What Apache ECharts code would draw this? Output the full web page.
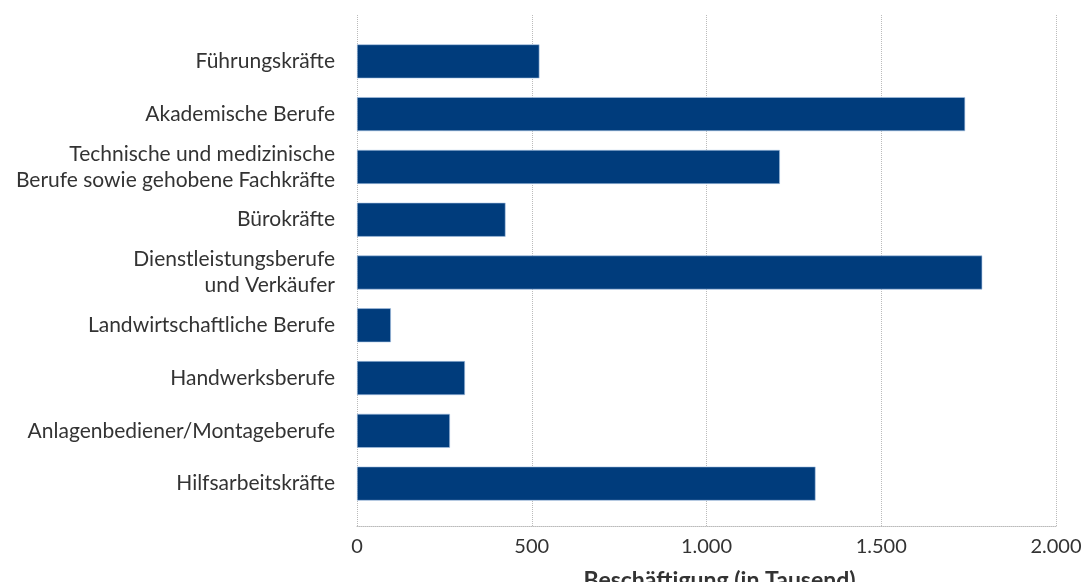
<!DOCTYPE html>
<html><head><meta charset="utf-8">
<script src="https://cdn.jsdelivr.net/npm/echarts@6/dist/echarts.min.js"></script>
<style>html,body{margin:0;padding:0;background:#fff}#c{width:1084px;height:582px}</style>
</head><body><div id="c"></div>
<script>
const categories = [
  "Führungskräfte",
  "Akademische Berufe",
  "Technische und medizinische\nBerufe sowie gehobene Fachkräfte",
  "Bürokräfte",
  "Dienstleistungsberufe\nund Verkäufer",
  "Landwirtschaftliche Berufe",
  "Handwerksberufe",
  "Anlagenbediener/Montageberufe",
  "Hilfsarbeitskräfte"
];
const values = [522, 1740, 1210, 425, 1789, 97, 309, 266, 1312];
const xTicks = [0, 500, 1000, 1500, 2000];
const axisName = "Beschäftigung (in Tausend)";

const FONT = "Lato";
const fmt = v => String(v).replace(/\B(?=(\d{3})+(?!\d))/g, ".");
const chart = echarts.init(document.getElementById('c'));
chart.setOption({
  animation: false,
  grid: [
    {left: 357, right: 28, top: 15, bottom: 56, outerBoundsMode: 'none', containLabel: false},
    {left: 357, right: 28, top: 35, bottom: 72, outerBoundsMode: 'none', containLabel: false}
  ],
  xAxis: [
    {gridIndex: 0, type: 'value', min: xTicks[0], max: xTicks[xTicks.length-1], interval: 500,
     position: 'bottom',
     axisLine: {show: true, onZero: false, lineStyle: {color: '#bbb', type: 'dotted', width: 1}},
     axisTick: {show: false},
     splitLine: {show: true, lineStyle: {color: '#bbb', type: 'dotted', width: 1}},
     axisLabel: {formatter: fmt, fontFamily: FONT, fontSize: 20, color: '#333', margin: 11},
     name: axisName, nameLocation: 'middle', nameGap: 43,
     nameTextStyle: {fontFamily: FONT, fontSize: 23, color: '#333', fontWeight: 'bold', padding: [0, 0, 0, 26]}},
    {gridIndex: 1, type: 'value', min: 0, max: 2000, show: false}
  ],
  yAxis: [
    {gridIndex: 0, type: 'value', min: 0, max: 1, show: false},
    {gridIndex: 1, type: 'category', data: categories, inverse: true,
     axisLine: {show: false}, axisTick: {show: false}, splitLine: {show: false},
     axisLabel: {fontFamily: FONT, fontSize: 21, color: '#333', margin: 22, lineHeight: 26, align: 'right'}}
  ],
  series: [{
    type: 'bar', xAxisIndex: 1, yAxisIndex: 1, data: values,
    barWidth: 34,
    itemStyle: {color: '#003c7c', borderColor: '#a9c4e4', borderWidth: 0.6}
  }]
});
</script></body></html>
